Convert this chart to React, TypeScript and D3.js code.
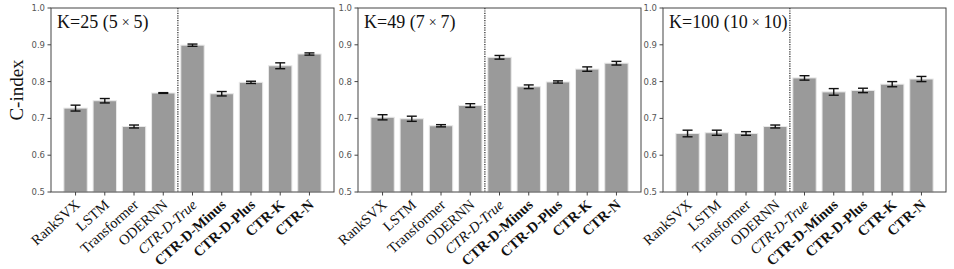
import React from 'react';
import * as d3 from 'd3';

const methods = ['RankSVX', 'LSTM', 'Transformer', 'ODERNN', 'CTR-D-True', 'CTR-D-Minus', 'CTR-D-Plus', 'CTR-K', 'CTR-N'];
const italicLabels = ['CTR-D-True'];
const boldLabels = ['CTR-D-Minus', 'CTR-D-Plus', 'CTR-K', 'CTR-N'];

const k25Means = [0.728, 0.748, 0.678, 0.769, 0.899, 0.767, 0.798, 0.843, 0.875];
const k25Errs = [0.008, 0.006, 0.004, 0.001, 0.003, 0.006, 0.003, 0.008, 0.003];
const k49Means = [0.703, 0.699, 0.680, 0.735, 0.866, 0.786, 0.799, 0.834, 0.850];
const k49Errs = [0.007, 0.007, 0.003, 0.005, 0.005, 0.005, 0.003, 0.006, 0.005];
const k100Means = [0.659, 0.661, 0.659, 0.678, 0.810, 0.772, 0.776, 0.793, 0.807];
const k100Errs = [0.009, 0.007, 0.005, 0.004, 0.006, 0.009, 0.006, 0.007, 0.007];

const yTicks = [0.5, 0.6, 0.7, 0.8, 0.9, 1.0];

const panels = [
  { title: ['K=25 (5', '5)'], means: k25Means, errs: k25Errs, left: 51 },
  { title: ['K=49 (7', '7)'], means: k49Means, errs: k49Errs, left: 358 },
  { title: ['K=100 (10', '10)'], means: k100Means, errs: k100Errs, left: 663 }
];

const plotW = 283;
const top = 8;
const bottom = 192;
const serif = 'Liberation Serif, Times New Roman, serif';

const Panel = ({ p }) => {
  const x = d3.scaleLinear().domain([-0.84, 8.84]).range([0, plotW]);
  const y = d3.scaleLinear().domain([0.5, 1.0]).range([bottom, top]);
  const bw = x(0.8) - x(0);
  const cap = 5;
  return (
    <g transform={'translate(' + p.left + ',0)'}>
      {p.means.map((m, i) => (
        <rect key={'b' + i} x={x(i - 0.4)} y={y(m)} width={bw} height={y(0.5) - y(m)}
          fill='#9a9a9a' stroke='#e8e8e8' strokeWidth={1} />
      ))}
      {p.means.map((m, i) => {
        const cx = x(i), y1 = y(m + p.errs[i]), y0 = y(m - p.errs[i]);
        return (
          <g key={'e' + i} stroke='#111' strokeWidth={1.4}>
            <line x1={cx} x2={cx} y1={y0} y2={y1} />
            <line x1={cx - cap} x2={cx + cap} y1={y0} y2={y0} />
            <line x1={cx - cap} x2={cx + cap} y1={y1} y2={y1} />
          </g>
        );
      })}
      <line x1={x(3.5)} x2={x(3.5)} y1={top} y2={bottom} stroke='#222' strokeWidth={1.2} strokeDasharray='1.2,1.2' />
      <rect x={0} y={top} width={plotW} height={bottom - top} fill='none' stroke='#444' strokeWidth={1} />
      {yTicks.map(t => (
        <g key={'y' + t}>
          <line x1={-3.5} x2={0} y1={y(t)} y2={y(t)} stroke='#444' />
          <text x={-6} y={y(t)} dy='0.35em' textAnchor='end' fontSize={8.5}
            fontFamily='DejaVu Sans, sans-serif' fill='#555'>{t.toFixed(1)}</text>
        </g>
      ))}
      {methods.map((name, i) => (
        <g key={'x' + i}>
          <line x1={x(i)} x2={x(i)} y1={bottom} y2={bottom + 3.5} stroke='#444' />
          <text transform={'translate(' + (x(i) - 2) + ',' + (bottom + 6) + ') rotate(-42)'}
            textAnchor='end' dy='0.75em' fontSize={14.5} fontFamily={serif}
            fontStyle={italicLabels.includes(name) ? 'italic' : 'normal'}
            fontWeight={boldLabels.includes(name) ? 'bold' : 'normal'}
            fill='#111'>{name}</text>
        </g>
      ))}
      <text x={6} y={28} fontSize={18} fontFamily={serif} fill='#111'>
        {p.title[0]}<tspan fontSize={14} dx={4} dy={-1}>×</tspan><tspan dx={4} dy={1}>{p.title[1]}</tspan>
      </text>
    </g>
  );
};

export default function App() {
  return (
    <div style={{ position: 'absolute', left: 0, top: 0 }}>
      <svg width={954} height={269} style={{ display: 'block', background: '#fff' }}>
        <text transform='translate(23,90) rotate(-90)' textAnchor='middle' fontSize={19}
          fontFamily={serif} fill='#111'>C-index</text>
        {panels.map((p, i) => <Panel key={i} p={p} />)}
      </svg>
    </div>
  );
}
